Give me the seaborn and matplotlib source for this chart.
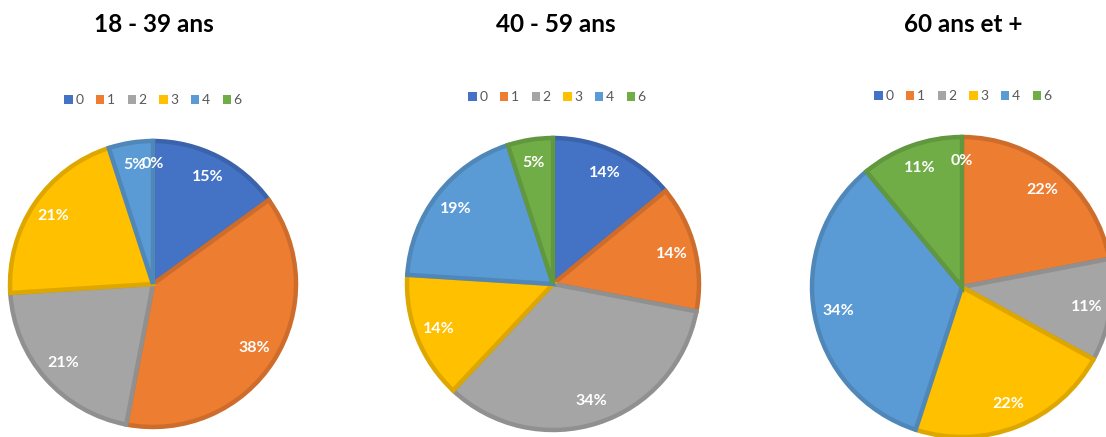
import matplotlib
matplotlib.use("Agg")
import matplotlib.pyplot as plt
import matplotlib.colors as mcolors
from matplotlib.patches import Patch
import seaborn as sns

# Nombre d'enfants par tranche d'âge (en %)
categories = ["0", "1", "2", "3", "4", "6"]
titles = ["18 - 39 ans", "40 - 59 ans", "60 ans et +"]
values_18_39 = [15, 38, 21, 21, 5, 0]
values_40_59 = [14, 14, 34, 14, 19, 5]
values_60_plus = [0, 22, 11, 22, 34, 11]

palette = ["#4472C4", "#ED7D31", "#A5A5A5", "#FFC000", "#5B9BD5", "#70AD47"]

sns.set_theme(style="white")
plt.rcParams["font.family"] = ["Lato", "DejaVu Sans"]

W, H = 1106, 437
fig = plt.figure(figsize=(W / 100, H / 100), dpi=100)


def darker(c, f=0.87):
    r, g, b = mcolors.to_rgb(c)
    return (r * f, g * f, b * f)


# pie centre (px), radius (px), title x, legend centre (px)
layout = [
    dict(cx=153, cy=284, r=143, tx=154, lx=153, ly=100),
    dict(cx=553, cy=284, r=146, tx=556, lx=557, ly=97),
    dict(cx=962, cy=287, r=150, tx=963, lx=963, ly=96),
]
series = [values_18_39, values_40_59, values_60_plus]
colors = sns.color_palette(palette)

for vals, title, lay in zip(series, titles, layout):
    pad = 1.04
    half = lay["r"] * pad
    ax = fig.add_axes([
        (lay["cx"] - half) / W,
        (H - lay["cy"] - half) / H,
        2 * half / W,
        2 * half / H,
    ])
    wedges, texts, autotexts = ax.pie(
        vals,
        colors=colors,
        startangle=90,
        counterclock=False,
        autopct="%.0f%%",
        pctdistance=0.84,
        wedgeprops=dict(linewidth=3.2, joinstyle="miter"),
        textprops=dict(color="white", fontsize=11.5, fontweight="bold"),
    )
    for w, c, v in zip(wedges, colors, vals):
        w.set_edgecolor(darker(c))
        if v == 0:
            w.set_linewidth(0)
    ax.set_xlim(-pad, pad)
    ax.set_ylim(-pad, pad)
    ax.set_aspect("equal")
    ax.axis("off")

    fig.text(lay["tx"] / W, 1 - 24 / H, title, ha="center", va="center",
             fontsize=17.5, fontweight="bold", color="black")

    handles = [Patch(facecolor=c, edgecolor="none") for c in colors]
    fig.legend(handles, categories, loc="center",
               bbox_to_anchor=(lay["lx"] / W, 1 - lay["ly"] / H),
               ncol=6, frameon=False, fontsize=10, labelcolor="#595959",
               handlelength=0.6, handleheight=0.6, handletextpad=0.2,
               columnspacing=0.9)

fig.savefig("out.png", dpi=100)
